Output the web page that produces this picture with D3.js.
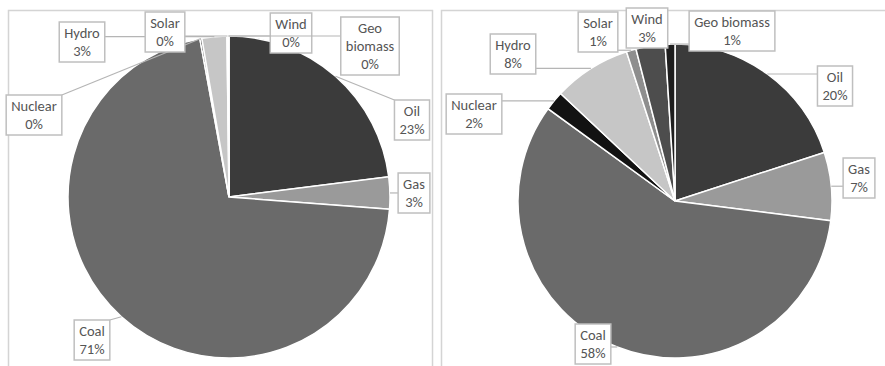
<!DOCTYPE html>
<html>
<head>
<meta charset="utf-8">
<script src="https://cdn.jsdelivr.net/npm/d3@7"></script>
<style>
  html, body { margin: 0; padding: 0; background: #fff; }
  svg { display: block; }
</style>
</head>
<body>
<svg id="chart" width="885" height="366"></svg>
<script>
// ---- data ----
const categories = ["Oil", "Gas", "Coal", "Nuclear", "Hydro", "Solar", "Wind", "Geo biomass"];
const valuesLeft  = [23, 3.2, 70.9, 0.2, 2.5, 0.1, 0.05, 0.05];
const valuesRight = [20, 7, 58, 2, 8, 1, 3, 1];
const labelLinesLeft  = {"Geo biomass": ["Geo", "biomass"]};
const labelLinesRight = {"Geo biomass": ["Geo biomass"]};

// ---- styles / layout ----
const colors = {
  "Oil": "#3b3b3b", "Gas": "#9a9a9a", "Coal": "#6a6a6a", "Nuclear": "#121212",
  "Hydro": "#c6c6c6", "Solar": "#8e8e8e", "Wind": "#4d4d4d", "Geo biomass": "#1e1e1e"
};
const layoutLeft = {
  cx: 229, cy: 197, r: 161,
  labels: {
    "Hydro": [82, 42], "Solar": [165, 32], "Wind": [291, 33], "Geo biomass": [370, 46],
    "Nuclear": [34, 115], "Oil": [412, 120], "Gas": [414, 193], "Coal": [92, 340]
  }
};
const layoutRight = {
  cx: 675, cy: 201, r: 157,
  labels: {
    "Hydro": [513, 54], "Solar": [598, 32], "Wind": [647, 28], "Geo biomass": [732, 31],
    "Nuclear": [474, 114], "Oil": [835, 86], "Gas": [859, 178], "Coal": [593, 344]
  }
};

const svg = d3.select("#chart");
const FONT = "Carlito, Lato, 'Noto Sans', sans-serif";
const FS = 14.5, LH = 18;

// panels
svg.append("rect").attr("x", 8.5).attr("y", 10.5).attr("width", 424).attr("height", 380)
  .attr("fill", "none").attr("stroke", "#d4d4d4").attr("stroke-width", 1.5);
svg.append("rect").attr("x", 441.5).attr("y", 10.5).attr("width", 480).attr("height", 380)
  .attr("fill", "none").attr("stroke", "#d4d4d4").attr("stroke-width", 1.5);

function drawPie(values, layout, lineMap) {
  const data = categories.map((c, i) => ({ cat: c, value: values[i] }));
  const total = d3.sum(values);
  const pie = d3.pie().value(d => d.value).sort(null);
  const arcs = pie(data);
  const arc = d3.arc().innerRadius(0).outerRadius(layout.r);
  const g = svg.append("g").attr("transform", `translate(${layout.cx},${layout.cy})`);
  g.selectAll("path").data(arcs).join("path")
    .attr("d", arc)
    .attr("fill", d => colors[d.data.cat])
    .attr("stroke", "#fff").attr("stroke-width", 1.5);

  const lg = svg.append("g");
  arcs.forEach(a => {
    const cat = a.data.cat;
    const pos = layout.labels[cat];
    const mid = (a.startAngle + a.endAngle) / 2;
    const ax = layout.cx + layout.r * Math.sin(mid);
    const ay = layout.cy - layout.r * Math.cos(mid);
    const lines = (lineMap[cat] || [cat]).concat([Math.round(a.data.value / total * 100) + "%"]);
    const grp = lg.append("g");
    const texts = lines.map((t, i) => grp.append("text")
      .attr("x", pos[0])
      .attr("y", pos[1] - (lines.length - 1) * LH / 2 + i * LH)
      .attr("dy", "0.35em")
      .attr("text-anchor", "middle")
      .attr("font-family", FONT).attr("font-size", FS)
      .attr("fill", "#555555")
      .text(t));
    const w = d3.max(texts, t => t.node().getComputedTextLength()) + 10;
    const h = lines.length * LH + 4;
    const bx = pos[0] - w / 2, by = pos[1] - h / 2;
    const px = Math.max(bx, Math.min(ax, bx + w));
    const py = Math.max(by, Math.min(ay, by + h));
    grp.insert("line", "text")
      .attr("x1", ax).attr("y1", ay).attr("x2", px).attr("y2", py)
      .attr("stroke", "#b5b5b5").attr("stroke-width", 1.2);
    grp.insert("rect", "text")
      .attr("x", bx).attr("y", by).attr("width", w).attr("height", h)
      .attr("fill", "#fff").attr("stroke", "#bfbfbf").attr("stroke-width", 1.5);
  });
}

drawPie(valuesLeft, layoutLeft, labelLinesLeft);
drawPie(valuesRight, layoutRight, labelLinesRight);
</script>
</body>
</html>
